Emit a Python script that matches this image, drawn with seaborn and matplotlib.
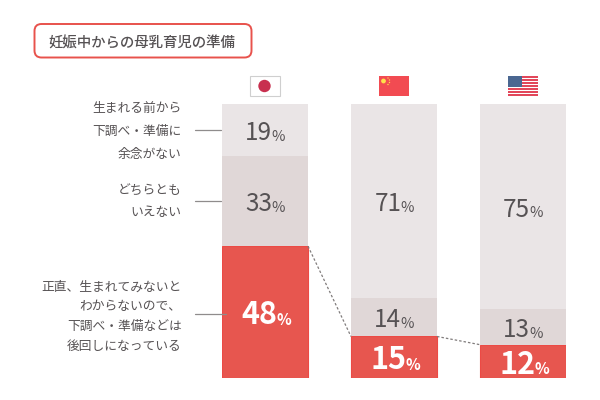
import matplotlib
matplotlib.use("Agg")
import matplotlib.pyplot as plt
import seaborn as sns
from matplotlib.patches import FancyBboxPatch, Rectangle, Ellipse

countries = ["日本", "中国", "米国"]
prepared = [19, 71, 75]
neutral = [33, 14, 13]
late = [48, 15, 12]
title = "妊娠中からの母乳育児の準備"
label_prepared = ["生まれる前から", "下調べ・準備に", "余念がない"]
label_neutral = ["どちらとも", "いえない"]
label_late = ["正直、生まれてみないと", "わからないので、", "下調べ・準備などは", "後回しになっている"]

FONT = ["Noto Sans CJK JP", "DejaVu Sans"]
sns.set_theme(style="white")
plt.rcParams["font.family"] = FONT
TXT = "#565254"
C_TOP, C_MID, C_RED, C_EDGE = "#eae5e6", "#e0d7d7", "#e7564f", "#ec4a45"
W, H = 600, 400

fig = plt.figure(figsize=(6, 4), dpi=100, facecolor="white")
ax = fig.add_axes([222 / W, (H - 377.5) / H, 344 / W, 273.5 / H])

base_mid = late
base_top = [a + b for a, b in zip(late, neutral)]
sns.barplot(x=countries, y=late, order=countries, color=C_RED, saturation=1, width=0.667,
            edgecolor=C_EDGE, linewidth=0.8, ax=ax)
sns.barplot(x=countries, y=neutral, bottom=base_mid, order=countries, color=C_MID, saturation=1,
            width=0.667, linewidth=0, ax=ax)
sns.barplot(x=countries, y=prepared, bottom=base_top, order=countries, color=C_TOP, saturation=1,
            width=0.667, linewidth=0, ax=ax)
ax.set_xlim(-0.3335, 2.3335)
ax.set_ylim(0, 100)
ax.axis("off")

HW = 0.3335
for i in range(len(countries) - 1):
    ax.plot([i + HW, i + 1 - HW], [late[i], late[i + 1]], color="#807c7c", lw=0.9,
            dashes=(2, 1.6), clip_on=False)


def put_value(i, y, v, color, big, small, weight, off, gap, rise):
    t = ax.annotate(str(v), (i, y), xytext=(off, 0), textcoords="offset points", ha="center",
                    va="center_baseline", color=color, fontsize=big, fontweight=weight)
    ax.annotate("%", xy=(1, 0), xycoords=t, xytext=(gap, rise), textcoords="offset points", ha="left",
                va="bottom", color=color, fontsize=small, fontweight=weight)


for i in range(3):
    put_value(i, base_top[i] + prepared[i] / 2, prepared[i], TXT, 17.5, 10.5, "normal", -4.5, -0.5, 1.5)
    put_value(i, base_mid[i] + neutral[i] / 2, neutral[i], TXT, 17.5, 10.5, "normal", -4.5, -0.5, 1.5)
    put_value(i, late[i] / 2, late[i], "white", 22, 11, "bold", -4, -0.8, 2.5)


def fx(x):
    return x / W


def fy(y):
    return 1 - y / H


def rect(x0, y0, x1, y1, **kw):
    fig.add_artist(Rectangle((fx(x0), fy(y1)), fx(x1 - x0), (y1 - y0) / H, transform=fig.transFigure, **kw))


def dot(x, y, r, color):
    fig.add_artist(Ellipse((fx(x), fy(y)), 2 * r / W, 2 * r / H, transform=fig.transFigure, fc=color, ec="none"))


# title box (drawn in pixels so that the corners stay round)
fig.add_artist(FancyBboxPatch((34.5, H - 57.5), 217, 33.5, boxstyle="round,pad=0,rounding_size=7",
                              transform=None, fc="white", ec="#e8524c", lw=1.4))
fig.text(fx(48.5), fy(43.5), title, ha="left", va="center", fontsize=10.4, fontweight="medium", color=TXT)

# side labels and leader lines
for lines, ys, ly, x1 in [(label_prepared, [108.5, 131.5, 154.5], 130, 221),
                          (label_neutral, [191.5, 212.5], 201, 221),
                          (label_late, [287.5, 306.5, 326.5, 346.5], 314, 226)]:
    for s, y in zip(lines, ys):
        fig.text(fx(181.5), fy(y), s, ha="right", va="center", fontsize=9.2, color=TXT)
    fig.add_artist(plt.Line2D([fx(195), fx(x1)], [fy(ly), fy(ly)], color="#8f8c8c", lw=0.9,
                              transform=fig.transFigure, zorder=5))

# flags
rect(249.5, 76, 279.5, 96, fc="white", ec="#cfcfcf", lw=0.8)
dot(264.5, 86, 6.2, "#c8304f")

rect(379, 76, 409, 96, fc="#f24b52", ec="none")
dot(383.5, 81, 2.4, "#ffe14a")
for sx, sy in [(388, 78), (389.5, 80), (389.5, 82.5), (388, 84.5)]:
    dot(sx, sy, 0.7, "#ffd84a")

rect(508, 76, 538, 96, fc="white", ec="none")
for k in range(7):
    y0 = 76 + k * 20 / 6.5
    rect(508, y0, 538, y0 + 20 / 13, fc="#e2475a", ec="none")
rect(508, 76, 522, 87, fc="#4a6791", ec="none")

fig.savefig("out.png", dpi=100)
